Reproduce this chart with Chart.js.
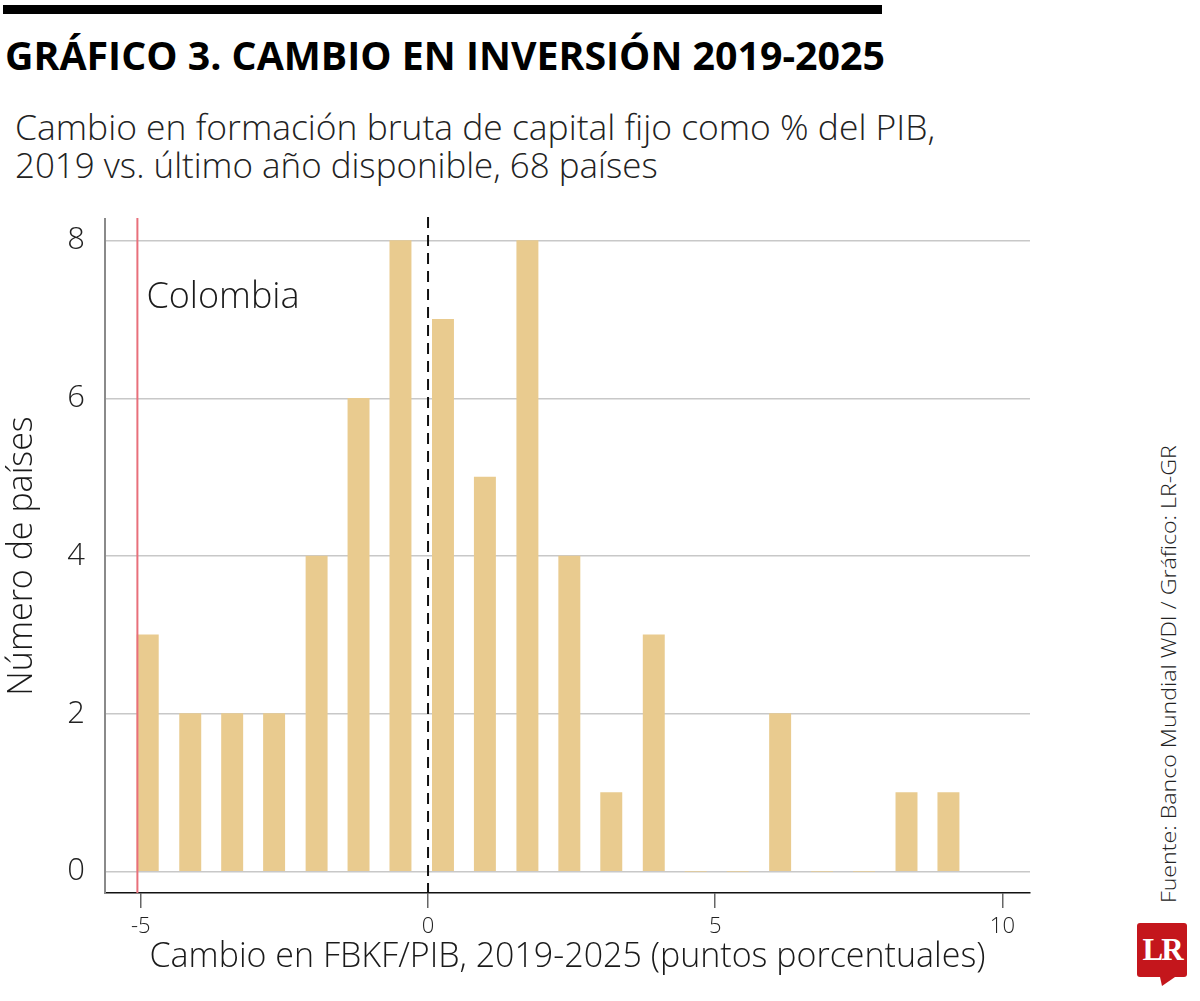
<!DOCTYPE html>
<html lang="es">
<head>
<meta charset="utf-8">
<title>Gráfico 3. Cambio en inversión 2019-2025</title>
<script src="https://cdn.jsdelivr.net/npm/chart.js@4.4.1/dist/chart.umd.min.js"></script>
<style>
  html, body { margin: 0; padding: 0; background: #fff; }
  body { width: 1200px; height: 1001px; position: relative; overflow: hidden; font-family: 'Open Sans', 'Noto Sans', sans-serif; color: #1a1a1a; }
  .abs { position: absolute; white-space: nowrap; line-height: 1; transform-origin: 0 0; }
  #rule { position: absolute; left: 3px; top: 5px; width: 879px; height: 9px; background: #000; }
  #title { left: 5px; top: 35px; font-size: 39px; font-weight: 700; color: #000; }
  .sub { left: 15px; font-size: 34px; font-weight: 300; color: #222; }
  #chartBox { position: absolute; left: 0; top: 200px; width: 1100px; height: 801px; }
  #source { left: 1158px; top: 903px; font-size: 21px; font-weight: 300; color: #222; }
  #logo { position: absolute; left: 1137px; top: 923px; width: 50px; height: 54px; background: #c4161c; border-radius: 3px;
          color: #fff; font: bold 31px 'Liberation Serif', 'DejaVu Serif', serif; letter-spacing: -2px;
          display: flex; align-items: center; justify-content: center; }
  #logo::after { content: ''; position: absolute; left: 23px; bottom: -9px; width: 0; height: 0;
                 border-left: 2px solid transparent; border-right: 13px solid transparent; border-top: 9px solid #c4161c; }
</style>
</head>
<body>
<div id="rule"></div>
<div id="title" class="abs" data-w="880">GRÁFICO 3. CAMBIO EN INVERSIÓN 2019-2025</div>
<div class="abs sub" style="top:110px" data-w="920">Cambio en formación bruta de capital fijo como % del PIB,</div>
<div class="abs sub" style="top:148px" data-w="643">2019 vs. último año disponible, 68 países</div>
<div id="chartBox"><canvas id="histChart"></canvas></div>
<div id="source" class="abs" data-w="458" data-rot="1">Fuente: Banco Mundial WDI / Gráfico: LR-GR</div>
<div id="logo">LR</div>

<script>
// histogram bins (centre of each bar) and number of countries per bin
const binCenters = [-4.88, -4.14, -3.41, -2.68, -1.94, -1.21, -0.48, 0.26, 0.99, 1.73,
                    2.46, 3.19, 3.93, 4.66, 5.39, 6.13, 6.86, 7.59, 8.33, 9.06];
const countries = [3, 2, 2, 2, 4, 6, 8, 7, 5, 8, 4, 1, 3, 0, 0, 2, 0, 0, 1, 1];
const xTicks = [-5, 0, 5, 10];
const yTicks = [0, 2, 4, 6, 8];
const xRange = [-5.624, 10.48];
const yRange = [-0.274, 8.274];
const colombia = -5.06;

const fitText = () => {
    document.querySelectorAll('[data-w]').forEach((el) => {
        const s = Number(el.dataset.w) / el.offsetWidth;
        el.style.transform = (el.dataset.rot ? 'rotate(-90deg) ' : '') + `scaleX(${s.toFixed(4)})`;
    });
};

const markers = {
    id: 'markers',
    afterDatasetsDraw(chart) {
        const { ctx, chartArea, scales } = chart;
        const xc = scales.x.getPixelForValue(colombia);
        const x0 = scales.x.getPixelForValue(0);
        ctx.save();
        ctx.lineWidth = 2;
        ctx.strokeStyle = '#e8707b';
        ctx.beginPath();
        ctx.moveTo(xc, chartArea.top - 1);
        ctx.lineTo(xc, chartArea.bottom);
        ctx.stroke();
        ctx.strokeStyle = '#111';
        ctx.setLineDash([11, 7]);
        ctx.beginPath();
        ctx.moveTo(x0, chartArea.top - 2);
        ctx.lineTo(x0, chartArea.bottom);
        ctx.stroke();
        ctx.setLineDash([]);
        ctx.fillStyle = '#1a1a1a';
        ctx.font = "300 36px 'Open Sans', sans-serif";
        ctx.textBaseline = 'alphabetic';
        ctx.fillText('Colombia', xc + 9, chartArea.top + 89);
        ctx.restore();
    },
};

const initChart = () => {
    Chart.defaults.font.family = "'Open Sans', 'Noto Sans', sans-serif";
    new Chart(document.getElementById('histChart'), {
        type: 'bar',
        data: {
            datasets: [
                {
                    data: binCenters.map((x, i) => ({ x, y: countries[i] })),
                    backgroundColor: '#e9cb8f',
                    borderWidth: 0,
                    barThickness: 21.3,
                },
            ],
        },
        plugins: [markers],
        options: {
            animation: false,
            responsive: true,
            maintainAspectRatio: false,
            layout: { padding: { left: 0, top: 19, right: 70, bottom: 0 } },
            plugins: { legend: { display: false }, tooltip: { enabled: false } },
            scales: {
                x: {
                    type: 'linear',
                    offset: false,
                    min: xRange[0],
                    max: xRange[1],
                    afterBuildTicks: (s) => { s.ticks = xTicks.map((v) => ({ value: v })); },
                    afterFit: (s) => { s.height = 108; s.paddingLeft = 0; s.paddingRight = 0; },
                    grid: { offset: false, drawOnChartArea: false, drawTicks: true, tickLength: 15, color: '#666', lineWidth: 1.5 },
                    border: { display: true, color: '#111', width: 1.5 },
                    ticks: { font: { size: 22, weight: 300 }, color: '#222', padding: 6, maxRotation: 0, autoSkip: false },
                    title: {
                        display: true,
                        text: 'Cambio en FBKF/PIB, 2019-2025 (puntos porcentuales)',
                        font: { size: 34, weight: 300 },
                        color: '#1a1a1a',
                        padding: { top: 0, bottom: 23 },
                    },
                },
                y: {
                    min: yRange[0],
                    max: yRange[1],
                    afterBuildTicks: (s) => { s.ticks = yTicks.map((v) => ({ value: v })); },
                    afterFit: (s) => { s.width = 105; s.paddingTop = 0; s.paddingBottom = 0; },
                    grid: { color: '#c8c8c8', lineWidth: 1.5, drawTicks: false },
                    border: { display: true, color: '#8a8a8a', width: 2 },
                    ticks: { font: { size: 31, weight: 300 }, color: '#222', padding: 20 },
                    title: {
                        display: true,
                        text: 'Número de países',
                        font: { size: 34, weight: 300 },
                        color: '#1a1a1a',
                        padding: { top: 2, bottom: 0 },
                    },
                },
            },
        },
    });
};

document.fonts.ready.then(() => {
    fitText();
    initChart();
});
</script>
</body>
</html>
